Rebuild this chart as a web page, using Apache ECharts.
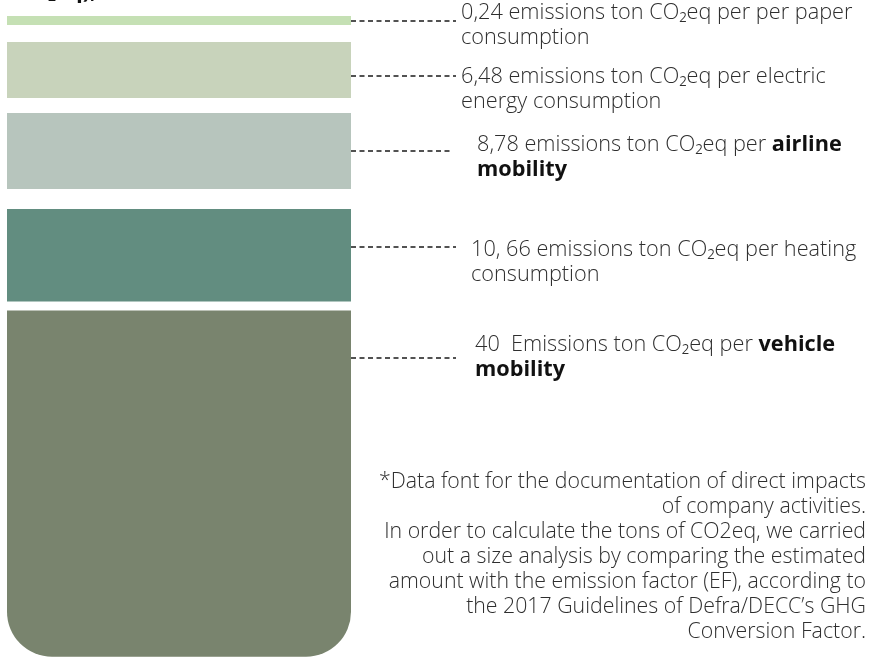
<!DOCTYPE html>
<html><head><meta charset="utf-8">
<script src="https://cdn.jsdelivr.net/npm/echarts@6/dist/echarts.min.js"></script>
<style>html,body{margin:0;padding:0;background:#fff}#c{width:872px;height:661px}</style>
</head><body><div id="c"></div>
<script>
// ---- data ----
const categories = ['paper consumption', 'electric energy consumption', 'airline mobility', 'heating consumption', 'vehicle mobility'];
const values = [0.24, 6.48, 8.78, 10.66, 40];
const labelTexts = [
  '0,24 emissions ton CO₂eq per per paper\nconsumption',
  '6,48 emissions ton CO₂eq per electric\nenergy consumption',
  '8,78 emissions ton CO₂eq per {b|airline}\n{b|mobility}',
  '10, 66 emissions ton CO₂eq per heating\nconsumption',
  '40  Emissions ton CO₂eq per {b|vehicle}\n{b|mobility}'
];
const footnoteLines = [
  '*Data font for the documentation of direct impacts',
  'of company activities.',
  'In order to calculate the tons of CO2eq, we carried',
  'out a size analysis by comparing the estimated',
  'amount with the emission factor (EF), according to',
  'the 2017 Guidelines of Defra/DECC\u2019s GHG',
  'Conversion Factor.'
];
const topFragment = 'CO₂eq),';

// ---- styles ----
const barColors = ['#c5e0b4', '#c8d3bb', '#b7c5bd', '#628d80', '#79846e'];
const gaps = [17, 15, 20, 9];
const lineAdj = [0, 6, 0, -6, 4];
const textDy = [-20.5, -11.5, -18.5, -9.5, -25.5];
const textX = [461, 461, 477, 471, 475];
const lineEndX = [456, 456, 450, 456, 456];
const FONT = '"Open Sans", "Liberation Sans", Arial, sans-serif';
const FS = 21.7;
const FS_NOTE = 21.3;

const chart = echarts.init(document.getElementById('c'));

function renderItem(params, api) {
  const i = params.dataIndex;
  const origin = api.coord([0, 0]);
  const right = api.coord([1, 0]);
  const x0 = origin[0], x1 = right[0];
  const heights = values.map(v => Math.max(9, api.size([0, v])[1]));
  let top = origin[1];
  for (let k = 0; k < i; k++) top += heights[k] + gaps[k];
  const h = heights[i];
  const ly = Math.round(top + Math.min(h / 2, 44) + lineAdj[i]);
  return {
    type: 'group',
    children: [
      {
        type: 'rect',
        shape: { x: x0, y: top, width: x1 - x0, height: h, r: i === 4 ? [0, 0, 45, 45] : 0 },
        style: { fill: barColors[i] }
      },
      {
        type: 'line',
        shape: { x1: x1, y1: ly, x2: lineEndX[i], y2: ly },
        style: { stroke: '#1a1a1a', lineWidth: 1.5, lineDash: [5, 3.5] }
      },
      {
        type: 'text',
        style: {
          x: textX[i], y: ly + textDy[i],
          text: labelTexts[i],
          fontFamily: FONT, fontSize: FS, lineHeight: 25, fontWeight: 300,
          fill: '#2e2e2e', verticalAlign: 'top', align: 'left',
          rich: {
            b: { fontFamily: FONT, fontSize: FS, lineHeight: 25, fontWeight: 'bold', fill: '#111' }
          }
        }
      }
    ]
  };
}

chart.setOption({
  animation: false,
  grid: { left: 7, top: 16, width: 344, height: 648 },
  xAxis: { type: 'value', min: 0, max: 1, show: false },
  yAxis: { type: 'value', min: 0, max: 74.5, inverse: true, show: false },
  series: [{
    type: 'custom',
    renderItem: renderItem,
    data: values.map((v, i) => ({ name: categories[i], value: [i, v] }))
  }],
  graphic: [
    {
      type: 'text', left: 17, top: -19,
      style: { text: topFragment, fontFamily: FONT, fontSize: FS, fontWeight: 'bold', fill: '#111' }
    },
    {
      type: 'text',
      x: 866, y: 469.5,
      style: {
        text: footnoteLines.join('\n'),
        fontFamily: FONT, fontSize: FS_NOTE, lineHeight: 25, fontWeight: 300,
        fill: '#2e2e2e', align: 'right', verticalAlign: 'top'
      }
    }
  ]
});
</script>
</body></html>
